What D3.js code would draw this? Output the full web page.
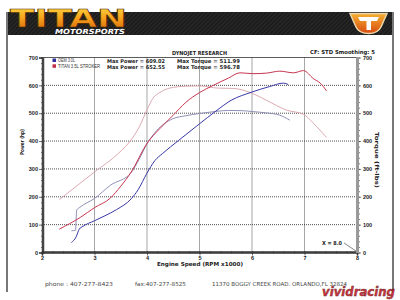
<!DOCTYPE html>
<html><head><meta charset="utf-8">
<script src="https://cdn.jsdelivr.net/npm/d3@7"></script>
<style>html,body{margin:0;padding:0;background:#fff;}svg{display:block;}</style>
</head><body>
<svg id="c" width="400" height="300"></svg>
<script>
// ---- data ----
const oemPowerRpm = [2.56,2.65,2.71,2.78,3.0,3.2,3.42,3.7,3.83,4.0,4.15,4.3,4.6,5.0,5.3,5.6,6.0,6.34,6.6,6.69];
const oemPowerHp  = [36,56,84,94,114,132,154,193,225,285,330,356,402,462,506,546,576,596,608,603];
const oemTorqueRpm = [2.56,2.64,2.66,2.72,3.0,3.3,3.7,3.85,4.0,4.18,4.49,4.74,5.0,5.29,5.55,5.83,6.0,6.28,6.53,6.72];
const oemTorqueFt  = [78,80,152,162,194,241,287,335,390,437,480,491,499,506,510,509,506,501,493,475];
const titanPowerRpm = [2.33,2.73,3.0,3.3,3.5,3.7,4.0,4.24,4.49,4.74,5.0,5.24,5.55,5.77,6.02,6.28,6.53,6.79,6.98,7.17,7.3,7.42];
const titanPowerHp  = [84,126,161,195,238,289,392,444,491,539,574,598,626,645,642,644,651,645,653,624,608,580];
const titanTorqueRpm = [2.33,3.0,3.45,3.72,3.85,4.0,4.11,4.25,4.43,4.74,5.0,5.36,5.64,6.02,6.28,6.66,6.98,7.17,7.42];
const titanTorqueFt  = [190,289,355,410,450,512,553,575,590,597,598,590,589,570,546,511,496,464,413];
const xTicks = [2,3,4,5,6,7,8];
const yTicks = [0,100,200,300,400,500,600,700];
const legendNames = ["OEM 3.0L","TITAN 3.5L STROKER"];
const maxPower = ["Max Power = 609.02","Max Power = 652.55"];
const maxTorque = ["Max Torque = 511.99","Max Torque = 596.78"];

const svg = d3.select("#c");
const defs = svg.append("defs");
const pat = defs.append("pattern").attr("id","hatch").attr("patternUnits","userSpaceOnUse")
  .attr("width",3).attr("height",3).attr("patternTransform","rotate(45)");
pat.append("rect").attr("width",3).attr("height",3).attr("fill","#1c1c1c");
pat.append("line").attr("x1",0).attr("y1",0).attr("x2",0).attr("y2",3).attr("stroke","#3a3a3a").attr("stroke-width",1);
const g1 = defs.append("linearGradient").attr("id","gold").attr("x1",0).attr("y1",0).attr("x2",0).attr("y2",1);
g1.append("stop").attr("offset","0%").attr("stop-color","#ffe24a");
g1.append("stop").attr("offset","50%").attr("stop-color","#f7a21c");
g1.append("stop").attr("offset","100%").attr("stop-color","#d0600a");
const g2 = defs.append("linearGradient").attr("id","emb").attr("x1",0).attr("y1",0).attr("x2",0).attr("y2",1);
g2.append("stop").attr("offset","0%").attr("stop-color","#f6b030");
g2.append("stop").attr("offset","100%").attr("stop-color","#d84a10");

// frame
svg.append("rect").attr("x",7).attr("y",12).attr("width",386).attr("height",23).attr("fill","url(#hatch)");
svg.append("line").attr("x1",7).attr("y1",12).attr("x2",7).attr("y2",292).attr("stroke","#777").attr("stroke-width",2);
svg.append("line").attr("x1",393).attr("y1",12).attr("x2",393).attr("y2",292).attr("stroke","#777").attr("stroke-width",2);

// logo
svg.append("text").attr("x",10).attr("y",26.5).text("TITAN")
  .attr("font-family","DejaVu Sans").attr("font-weight","bold").attr("font-size",25)
  .attr("textLength",117).attr("lengthAdjust","spacingAndGlyphs")
  .attr("fill","url(#gold)").attr("stroke","#4a2500").attr("stroke-width",0.6);
svg.append("text").attr("x",55).attr("y",34).text("MOTORSPORTS")
  .attr("font-family","DejaVu Sans").attr("font-weight","bold").attr("font-style","italic").attr("font-size",7)
  .attr("textLength",70).attr("lengthAdjust","spacingAndGlyphs").attr("fill","#fff");
svg.append("path").attr("d","M350,13.5 L387,13.5 L381,27 Q378,33.5 368.5,33.5 Q359,33.5 356,27 Z")
  .attr("fill","url(#emb)").attr("stroke","#e9d6a8").attr("stroke-width",1.5);
svg.append("path").attr("d","M358,17 L379,17 L377,21 L371,21 L371,30 L366.5,30 L366.5,21 L360,21 Z").attr("fill","#fff");

// scales
const x = d3.scaleLinear().domain([2,8]).range([42,357]);
const y = d3.scaleLinear().domain([0,700]).range([252.5,57.5]);
const font = "DejaVu Sans";

// gridlines
const grid = svg.append("g");
grid.selectAll(".gh").data(yTicks.filter(d=>d>0 && d<700)).enter().append("line")
  .attr("x1",42).attr("x2",357).attr("y1",d=>y(d)).attr("y2",d=>y(d))
  .attr("stroke","#222").attr("stroke-width",0.8).attr("stroke-dasharray","1,1");
grid.selectAll(".gv").data(xTicks.filter(d=>d>2 && d<8)).enter().append("line")
  .attr("y1",57.5).attr("y2",252.5).attr("x1",d=>x(d)).attr("x2",d=>x(d))
  .attr("stroke","#222").attr("stroke-width",0.8).attr("stroke-dasharray","1,1");
svg.append("line").attr("x1",42).attr("x2",357).attr("y1",57.5).attr("y2",57.5).attr("stroke","#333").attr("stroke-width",0.8);

// axes
const ax = svg.append("g").attr("font-family",font);
const gL2 = ax.append("g").attr("transform","translate(43,0)").call(d3.axisLeft(y).tickValues(d3.range(0,701,20)).tickSize(2).tickFormat(""));
const gL = ax.append("g").attr("transform","translate(42,0)").call(d3.axisLeft(y).tickValues(yTicks).tickSize(3).tickPadding(1));
gL.selectAll("text").attr("font-size",5.5).attr("font-weight","bold").attr("fill","#222");
[gL,gL2].forEach(g=>{g.select(".domain").attr("stroke","#444").attr("stroke-width",1.5);g.selectAll(".tick line").attr("stroke","#333").attr("stroke-width",0.7);});

const gB2 = ax.append("g").attr("transform","translate(0,251.5)").call(d3.axisBottom(x).tickValues(d3.range(2,8.01,0.2)).tickSize(2).tickFormat(""));
const gB = ax.append("g").attr("transform","translate(0,252.5)").call(d3.axisBottom(x).tickValues(xTicks).tickSize(3).tickPadding(1).tickFormat(d3.format("d")));
gB.selectAll("text").attr("font-size",5.5).attr("font-weight","bold").attr("fill","#222");
[gB,gB2].forEach(g=>{g.select(".domain").attr("stroke","#333").attr("stroke-width",1.6);g.selectAll(".tick line").attr("stroke","#333").attr("stroke-width",0.7);});

svg.append("line").attr("x1",357.5).attr("x2",357.5).attr("y1",57).attr("y2",253).attr("stroke","#999").attr("stroke-width",3);
const gR2 = ax.append("g").attr("transform","translate(358,0)").call(d3.axisRight(y).tickValues(d3.range(0,701,20)).tickSize(2).tickFormat(""));
const gR = ax.append("g").attr("transform","translate(358,0)").call(d3.axisRight(y).tickValues(yTicks).tickSize(3).tickPadding(2));
gR.selectAll("text").attr("font-size",5.5).attr("font-weight","bold").attr("fill","#222");
[gR,gR2].forEach(g=>{g.select(".domain").remove();g.selectAll(".tick line").attr("stroke","#444").attr("stroke-width",0.7);});

// curves
const line = d3.line().x(d=>x(d[0])).y(d=>y(d[1])).curve(d3.curveMonotoneX);
const series = [
  {rpm:titanTorqueRpm, v:titanTorqueFt, c:"#dcaab2"},
  {rpm:oemTorqueRpm, v:oemTorqueFt, c:"#8f8fb8"},
  {rpm:titanPowerRpm, v:titanPowerHp, c:"#c8354f"},
  {rpm:oemPowerRpm, v:oemPowerHp, c:"#3838a8"}
];
svg.append("g").selectAll("path").data(series).enter().append("path")
  .attr("d",s=>line(s.rpm.map((r,i)=>[r,s.v[i]])))
  .attr("fill","none").attr("stroke",s=>s.c).attr("stroke-width",1);

// legend
const legColors = ["#3030a0","#c03048"];
legendNames.forEach((n,i)=>{
  svg.append("rect").attr("x",52.5).attr("y",58.5+i*5.8).attr("width",3.5).attr("height",3.5).attr("fill",legColors[i]);
  svg.append("text").attr("x",58).attr("y",62+i*5.8).text(n).attr("font-family","Liberation Sans Narrow, Liberation Sans")
    .attr("font-size",5).attr("fill","#333").attr("textLength",i?42:17).attr("lengthAdjust","spacingAndGlyphs");
});
maxPower.forEach((t,i)=>{
  svg.append("text").attr("x",107).attr("y",63+i*5.6).text(t).attr("font-family",font).attr("font-weight","bold")
    .attr("font-size",5.3).attr("fill","#222").attr("textLength",58).attr("lengthAdjust","spacingAndGlyphs");
});
maxTorque.forEach((t,i)=>{
  svg.append("text").attr("x",177).attr("y",63+i*5.6).text(t).attr("font-family",font).attr("font-weight","bold")
    .attr("font-size",5.3).attr("fill","#222").attr("textLength",63).attr("lengthAdjust","spacingAndGlyphs");
});

function txt(s,xx,yy,len,opt={}){
  const t=svg.append("text").attr("x",xx).attr("y",yy).text(s).attr("font-family",font)
   .attr("font-weight",opt.w||"bold").attr("font-size",opt.fs||5.5).attr("fill",opt.c||"#222");
  if(len) t.attr("textLength",len).attr("lengthAdjust","spacingAndGlyphs");
  if(opt.tr) t.attr("transform",opt.tr);
  return t;
}
txt("DYNOJET RESEARCH",172,55,55);
txt("CF: STD  Smoothing: 5",310,54,65);
txt("Engine Speed (RPM x1000)",157,265.5,86);
txt("Power (hp)",0,0,26,{tr:"translate(24,155) rotate(-90)"});
txt("Torque (ft-lbs)",0,0,56,{tr:"translate(375,132) rotate(90)"});
txt("X = 8.0",322,245,20);
svg.append("line").attr("x1",344).attr("y1",243).attr("x2",356).attr("y2",251).attr("stroke","#333").attr("stroke-width",0.6);
txt("phone : 407-277-8423",45,286,68,{w:"normal",c:"#444"});
txt("fax:407-277-8525",135,286,51,{w:"normal",c:"#444"});
txt("11370 BOGGY CREEK ROAD. ORLANDO,FL 32824",212,286,135,{w:"normal",c:"#444"});
svg.append("text").attr("x",322).attr("y",296).text("vividracing").attr("font-family","DejaVu Sans")
  .attr("font-weight","bold").attr("font-style","italic").attr("font-size",12)
  .attr("textLength",73).attr("lengthAdjust","spacingAndGlyphs")
  .attr("fill","#c8202a").attr("stroke","#5a1010").attr("stroke-width",0.4).attr("opacity",0.9);
</script>
</body></html>
